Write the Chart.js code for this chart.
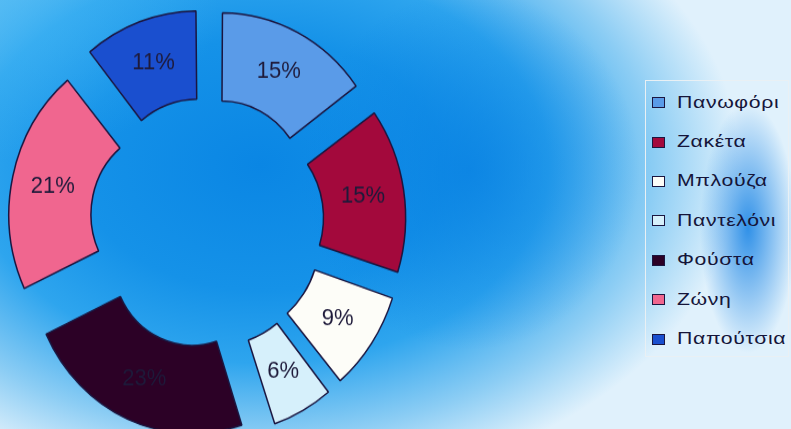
<!DOCTYPE html>
<html>
<head>
<meta charset="utf-8">
<title>Ρούχα</title>
<script src="https://cdn.jsdelivr.net/npm/chart.js@4.4.1/dist/chart.umd.min.js"></script>
<style>
  html, body {
    margin: 0;
    padding: 0;
  }
  body {
    width: 791px;
    height: 429px;
    overflow: hidden;
    position: relative;
    font-family: "Liberation Sans", Arial, sans-serif;
    background:
      radial-gradient(ellipse 48px 125px at 748px 228px, rgba(18, 128, 228, 0.85), rgba(18, 128, 228, 0) 100%),
      radial-gradient(ellipse 170px 180px at 470px 170px, rgba(8, 128, 226, 0.75), rgba(8, 128, 226, 0) 100%),
      radial-gradient(ellipse 220px 160px at 0px 0px, rgba(70, 185, 245, 0.6), rgba(70, 185, 245, 0) 100%),
      radial-gradient(ellipse 480px 330px at 260px 165px, #0a86e4 0%, #1592e8 38%, #2ea5ee 60%, #8ccdf4 82%, #e0f1fc 100%),
      #e0f1fc;
  }
  #chart-box {
    position: absolute;
    left: 0;
    top: 0;
    width: 414px;
    height: 446px;
    /* the picture is a little taller than it is wide */
    transform: scaleY(1.075);
    transform-origin: 207px 223px;
  }
  #legend {
    position: absolute;
    left: 645px;
    top: 80px;
    width: 144px;
    height: 277px;
    border: 1px solid #e9f0f4;
    box-sizing: border-box;
  }
  #legend ul {
    list-style: none;
    margin: 0;
    padding: 2px 0 0 6px;
  }
  #legend li {
    height: 39.4px;
    display: flex;
    align-items: center;
    font-size: 17px;
    color: #15153a;
  }
  #legend .swatch {
    display: inline-block;
    width: 11px;
    height: 9px;
    border: 1px solid #1b1640;
    margin-right: 12px;
  }
  #legend .name {
    display: inline-block;
    letter-spacing: 0.5px;
    transform: scaleX(1.25);
    transform-origin: left center;
  }
</style>
</head>
<body>
<div id="chart-box"><canvas id="clothes-chart"></canvas></div>
<div id="legend"></div>

<script>
'use strict';

let items = ['Πανωφόρι', 'Ζακέτα', 'Μπλούζα', 'Παντελόνι', 'Φούστα', 'Ζώνη', 'Παπούτσια'];
let shares = [15, 15, 9, 6, 23, 21, 11];
let sliceColors = ['#5a9be8', '#a3093c', '#fdfdf8', '#d6f0fb', '#2c0126', '#f0668f', '#1a4fcf'];

// how far each slice is pulled out from the centre, px
let explode = 38;

// ArcElement moves a slice by offset / 4 * (1 + fix), so work back to
// the offset that gives the same pull-out for every slice
function sliceOffset(ctx) {
  let total = shares.reduce((a, b) => a + b, 0);
  let circ = shares[ctx.dataIndex] / total * Math.PI * 2;
  let fix = 1 - Math.sin(Math.min(Math.PI, circ));
  return explode * 4 / (1 + fix);
}

// percentage text in the middle of each slice
const sliceLabels = {
  id: 'sliceLabels',
  afterDatasetsDraw(chart) {
    const ctx = chart.ctx;
    const meta = chart.getDatasetMeta(0);
    ctx.save();
    ctx.font = '22px "Liberation Sans", Arial, sans-serif';
    ctx.fillStyle = '#1e1a3a';
    ctx.textAlign = 'center';
    ctx.textBaseline = 'middle';
    meta.data.forEach((arc, i) => {
      const p = arc.getProps(['x', 'y', 'startAngle', 'endAngle', 'innerRadius', 'outerRadius', 'circumference'], true);
      const fix = 1 - Math.sin(Math.min(Math.PI, p.circumference));
      const moved = arc.options.offset / 4 * (1 + fix);
      const mid = (p.startAngle + p.endAngle) / 2;
      const r = (p.innerRadius + p.outerRadius) / 2 + moved;
      ctx.fillText(shares[i] + '%', p.x + Math.cos(mid) * r, p.y + Math.sin(mid) * r);
    });
    ctx.restore();
  }
};

const chartCanvas = document.getElementById('clothes-chart');
const clothesChart = new Chart(chartCanvas, {
  type: 'doughnut',
  data: {
    labels: items,
    datasets: [{
      data: shares,
      backgroundColor: sliceColors,
      borderColor: '#1b1640',
      borderWidth: 1.5,
      offset: sliceOffset
    }]
  },
  options: {
    responsive: true,
    maintainAspectRatio: false,
    animation: false,
    radius: 161,
    cutout: '49%',
    events: [],
    plugins: {
      legend: { display: false },
      tooltip: { enabled: false }
    }
  },
  plugins: [sliceLabels]
});

// legend on the right, built from the chart's own legend items
function renderLegend(chart) {
  const box = document.getElementById('legend');
  const list = document.createElement('ul');
  const legendItems = chart.options.plugins.legend.labels.generateLabels(chart);
  for (let i = 0; i < legendItems.length; i++) {
    const li = document.createElement('li');
    const swatch = document.createElement('span');
    swatch.className = 'swatch';
    swatch.style.background = legendItems[i].fillStyle;
    const name = document.createElement('span');
    name.className = 'name';
    name.textContent = legendItems[i].text;
    li.appendChild(swatch);
    li.appendChild(name);
    list.appendChild(li);
  }
  box.appendChild(list);
}

renderLegend(clothesChart);
</script>
</body>
</html>
